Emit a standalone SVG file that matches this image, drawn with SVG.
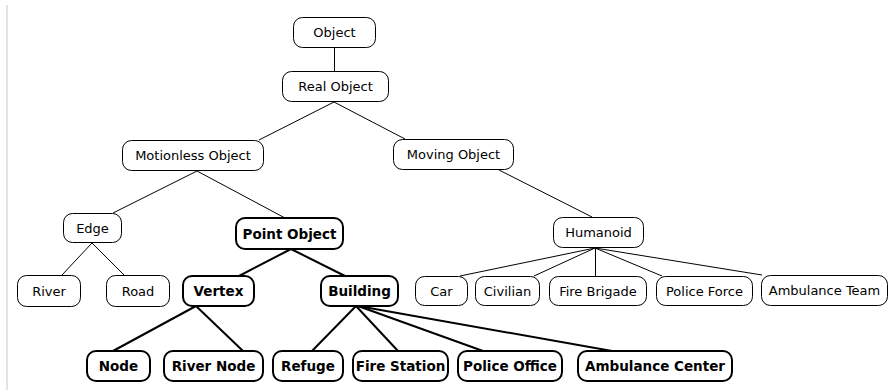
<svg xmlns="http://www.w3.org/2000/svg" width="890" height="390" viewBox="0 0 890 390">
<style>
.n rect{fill:#fff;stroke:#000;stroke-width:1}
.b rect{fill:#fff;stroke:#000;stroke-width:2}
.n text{font-family:"DejaVu Sans",sans-serif;font-size:13px;text-anchor:middle;fill:#000}
.b text{font-family:"DejaVu Sans",sans-serif;font-size:13.5px;font-weight:bold;text-anchor:middle;fill:#000}
.t{stroke:#000;stroke-width:1;fill:none}
.k{stroke:#000;stroke-width:2;fill:none}
</style>
<rect width="890" height="390" fill="#fff"/>
<line x1="7" y1="5" x2="7" y2="390" stroke="#c8c8c8" stroke-width="1"/>
<g id="connectors">
<line class="t" x1="334.5" y1="48" x2="334.5" y2="71"/>
<line class="t" x1="334" y1="102" x2="259" y2="140"/>
<line class="t" x1="334" y1="102" x2="405" y2="139"/>
<line class="t" x1="197" y1="171" x2="113" y2="213"/>
<line class="t" x1="197" y1="171" x2="285" y2="218"/>
<line class="t" x1="92" y1="243" x2="62" y2="275"/>
<line class="t" x1="92" y1="243" x2="124" y2="275"/>
<line class="t" x1="499" y1="170" x2="592" y2="217"/>
<line class="t" x1="595" y1="248" x2="460" y2="276"/>
<line class="t" x1="595" y1="248" x2="534" y2="276"/>
<line class="t" x1="595.5" y1="248" x2="595.5" y2="276"/>
<line class="t" x1="595" y1="248" x2="662" y2="276"/>
<line class="t" x1="595" y1="248" x2="762" y2="275"/>
<line class="k" x1="291" y1="249" x2="239" y2="276"/>
<line class="k" x1="291" y1="249" x2="345" y2="276"/>
<line class="k" x1="196" y1="306" x2="113" y2="351"/>
<line class="k" x1="196" y1="306" x2="243" y2="351"/>
<line class="k" x1="356" y1="306" x2="312" y2="351"/>
<line class="k" x1="356" y1="306" x2="398" y2="351"/>
<line class="k" x1="358" y1="306" x2="483" y2="351"/>
<line class="k" x1="358" y1="306" x2="612" y2="351"/>
</g>
<g id="object" class="n"><rect x="293.5" y="17.5" width="82" height="30" rx="9"/><text x="334.5" y="37">Object</text></g>
<g id="real-object" class="n"><rect x="282.5" y="71.5" width="106" height="30" rx="9"/><text x="335.5" y="91">Real Object</text></g>
<g id="motionless-object" class="n"><rect x="122.5" y="140.5" width="141" height="30" rx="9"/><text x="193" y="160">Motionless Object</text></g>
<g id="moving-object" class="n"><rect x="393.5" y="139.5" width="120" height="30" rx="9"/><text x="453.5" y="159">Moving Object</text></g>
<g id="edge" class="n"><rect x="63.5" y="213.5" width="58" height="29" rx="9"/><text x="92.5" y="232.5">Edge</text></g>
<g id="point-object" class="b"><rect x="236" y="218" width="107" height="31" rx="9"/><text x="289.5" y="238.5">Point Object</text></g>
<g id="humanoid" class="n"><rect x="553.5" y="217.5" width="90" height="30" rx="9"/><text x="598.5" y="237">Humanoid</text></g>
<g id="river" class="n"><rect x="17.5" y="275.5" width="63" height="31" rx="9"/><text x="49" y="295.5">River</text></g>
<g id="road" class="n"><rect x="106.5" y="275.5" width="63" height="31" rx="9"/><text x="138" y="295.5">Road</text></g>
<g id="vertex" class="b"><rect x="183" y="276" width="71" height="30" rx="9"/><text x="218.5" y="296">Vertex</text></g>
<g id="building" class="b"><rect x="321" y="276" width="77" height="30" rx="9"/><text x="359.5" y="296">Building</text></g>
<g id="car" class="n"><rect x="415.5" y="276.5" width="52" height="29" rx="9"/><text x="441.5" y="295.5">Car</text></g>
<g id="civilian" class="n"><rect x="475.5" y="276.5" width="64" height="29" rx="9"/><text x="507.5" y="295.5">Civilian</text></g>
<g id="fire-brigade" class="n"><rect x="549.5" y="276.5" width="97" height="29" rx="9"/><text x="598" y="295.5">Fire Brigade</text></g>
<g id="police-force" class="n"><rect x="656.5" y="276.5" width="96" height="29" rx="9"/><text x="704.5" y="295.5">Police Force</text></g>
<g id="ambulance-team" class="n"><rect x="761.5" y="275.5" width="126" height="30" rx="9"/><text x="824.5" y="295">Ambulance Team</text></g>
<g id="node" class="b"><rect x="87" y="351" width="63" height="30" rx="9"/><text x="118.5" y="371">Node</text></g>
<g id="river-node" class="b"><rect x="164" y="351" width="99" height="30" rx="9"/><text x="213.5" y="371">River Node</text></g>
<g id="refuge" class="b"><rect x="273" y="351" width="70" height="30" rx="9"/><text x="308" y="371">Refuge</text></g>
<g id="fire-station" class="b"><rect x="353" y="351" width="95" height="30" rx="9"/><text x="400.5" y="371">Fire Station</text></g>
<g id="police-office" class="b"><rect x="458" y="351" width="104" height="30" rx="9"/><text x="510" y="371">Police Office</text></g>
<g id="ambulance-center" class="b"><rect x="578" y="351" width="154" height="30" rx="9"/><text x="655" y="371">Ambulance Center</text></g>
</svg>
